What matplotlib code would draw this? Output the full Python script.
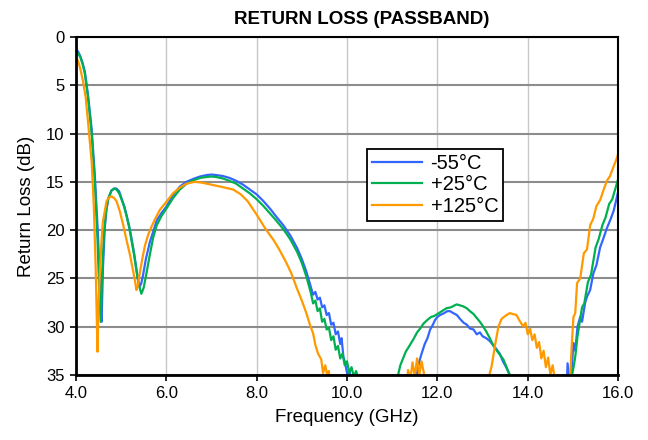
import numpy as np
import matplotlib.pyplot as plt

plt.rcParams['font.family'] = ['Liberation Sans', 'DejaVu Sans']

# -55C
freq_m55 = [4.00, 4.05, 4.10, 4.15, 4.20, 4.27, 4.35, 4.42, 4.49, 4.54, 4.57, 4.60, 4.64, 4.68, 4.72,
            4.79, 4.85, 4.90, 4.96, 5.01, 5.07, 5.12, 5.18, 5.23, 5.29, 5.34, 5.38, 5.41, 5.45, 5.49,
            5.55, 5.64, 5.71, 5.79, 5.90, 6.00, 6.15, 6.30, 6.45, 6.60, 6.75, 6.90, 7.00, 7.10, 7.25,
            7.40, 7.55, 7.70, 7.85, 8.00, 8.15, 8.30, 8.45, 8.59, 8.75, 8.90, 9.00, 9.10, 9.20, 9.25,
            9.30, 9.35, 9.40, 9.45, 9.50, 9.55, 9.60, 9.65, 9.70, 9.75, 9.80, 9.85, 9.88, 9.92, 9.96,
            10.00, 10.03, 10.06, 10.10,
            11.50, 11.54, 11.60, 11.65, 11.72, 11.78, 11.84, 11.90, 11.95, 12.00, 12.06, 12.15, 12.22,
            12.28, 12.35, 12.43, 12.50, 12.58, 12.65, 12.72, 12.80, 12.87, 12.94, 13.00, 13.08, 13.16,
            13.23, 13.30, 13.38, 13.45, 13.52, 13.60, 13.65,
            14.85, 14.88, 14.92, 14.97, 15.01, 15.05, 15.10, 15.16, 15.20, 15.27, 15.31, 15.38, 15.45,
            15.52, 15.60, 15.67, 15.75, 15.83, 15.90, 15.95, 16.00]
rl_m55 = [1.3, 1.5, 2.0, 2.7, 3.6, 6.0, 9.5, 14.3, 20.5, 26.5, 29.5, 24.0, 19.8, 17.8, 16.7,
          15.9, 15.7, 15.7, 16.0, 16.7, 17.5, 18.4, 19.6, 20.8, 22.4, 24.0, 25.2, 25.9, 25.5, 24.6,
          23.0, 21.2, 20.2, 19.0, 18.2, 17.6, 16.4, 15.5, 15.0, 14.7, 14.45, 14.3, 14.25, 14.3, 14.4,
          14.6, 14.9, 15.3, 15.8, 16.3, 17.0, 17.8, 18.7, 19.5, 20.6, 21.9, 23.0, 24.3, 25.9, 26.7,
          26.4, 27.2, 27.0, 28.0, 27.8, 28.8, 28.6, 29.8, 29.6, 30.8, 30.5, 31.8, 31.2, 33.1, 33.8,
          34.8, 35.2, 34.7, 38,
          38, 35.0, 33.6, 32.8, 31.8, 31.2, 30.3, 29.8, 29.3, 29.0, 28.8, 28.6, 28.4,
          28.4, 28.6, 28.8, 29.2, 29.6, 29.8, 30.2, 30.3, 30.8, 30.6, 31.0, 31.2, 31.5,
          31.9, 32.3, 32.8, 33.6, 34.2, 35.0, 38,
          38, 33.8, 35.5, 34.5, 31.7, 32.5, 30.0, 29.0, 29.5, 27.5, 26.9, 26.2, 24.5,
          23.6, 21.8, 20.9, 19.8, 18.9, 18.0, 17.0, 16.0]

# +25C
freq_p25 = [4.00, 4.05, 4.10, 4.15, 4.20, 4.27, 4.35, 4.42, 4.48, 4.52, 4.55, 4.58, 4.62, 4.67, 4.72,
            4.79, 4.85, 4.90, 4.96, 5.01, 5.07, 5.12, 5.18, 5.23, 5.29, 5.34, 5.39, 5.45, 5.50, 5.55,
            5.64, 5.71, 5.79, 5.90, 6.00, 6.15, 6.30, 6.45, 6.60, 6.75, 6.90, 7.00, 7.10, 7.25, 7.40,
            7.55, 7.70, 7.85, 8.00, 8.15, 8.30, 8.45, 8.59, 8.75, 8.90, 9.00, 9.10, 9.20, 9.25, 9.30,
            9.35, 9.40, 9.45, 9.50, 9.55, 9.60, 9.65, 9.70, 9.75, 9.80, 9.85, 9.90, 9.95, 10.00, 10.05,
            10.10, 10.15, 10.20, 10.25, 10.30,
            11.08, 11.13, 11.18, 11.24, 11.30, 11.38, 11.47, 11.55, 11.62, 11.69, 11.78, 11.86, 11.93,
            12.00, 12.10, 12.20, 12.30, 12.38, 12.43, 12.50, 12.57, 12.65, 12.72, 12.80, 12.87, 12.94,
            13.00, 13.08, 13.16, 13.23, 13.30, 13.38, 13.46, 13.53, 13.60, 13.65,
            14.95, 14.98, 15.02, 15.05, 15.10, 15.15, 15.20, 15.25, 15.33, 15.40, 15.50, 15.57, 15.65,
            15.72, 15.80, 15.87, 15.95, 16.00]
rl_p25 = [1.5, 1.7, 2.1, 2.8, 3.8, 6.3, 10.0, 15.0, 21.0, 26.5, 29.5, 25.0, 20.5, 18.0, 16.7,
          15.9, 15.7, 15.8, 16.2, 16.8, 17.6, 18.5, 19.7, 21.0, 22.6, 24.2, 25.6, 26.6, 26.0, 24.8,
          22.5, 20.8, 19.5, 18.5, 17.8, 16.7, 15.8, 15.2, 14.85, 14.6, 14.5, 14.45, 14.5, 14.65, 14.9,
          15.2, 15.7, 16.2, 16.8, 17.5, 18.3, 19.1, 19.9, 21.0, 22.3, 23.4, 24.8, 26.5, 27.6, 27.3,
          28.4, 28.1, 29.5, 29.2, 30.3, 30.1, 31.4, 31.0, 32.4, 32.0, 33.3, 32.8, 34.0, 33.6, 34.8,
          34.2, 35.2, 34.6, 35.3, 38,
          38, 35.0, 34.0, 33.3, 32.6, 32.0, 31.3, 30.6, 30.2, 29.7, 29.3, 29.0, 28.9,
          28.7, 28.4, 28.1, 28.0, 27.8, 27.7, 27.8, 27.9, 28.1, 28.4, 28.7, 29.1, 29.5,
          29.9, 30.5, 31.2, 31.9, 32.4, 32.9, 33.4, 34.2, 35.0, 38,
          38, 35.0, 34.0, 33.1, 31.0, 29.5, 28.0, 27.6, 25.4, 24.6, 21.8, 20.9, 19.5,
          18.7, 17.3, 16.8, 15.5, 14.7]

# +125C
freq_p125 = [4.00, 4.05, 4.10, 4.16, 4.22, 4.27, 4.35, 4.40, 4.44, 4.48, 4.50, 4.53, 4.57, 4.60, 4.68,
             4.74, 4.79, 4.85, 4.90, 4.97, 5.05, 5.12, 5.20, 5.27, 5.31, 5.34, 5.37, 5.41, 5.47, 5.53,
             5.60, 5.67, 5.76, 5.86, 6.00, 6.15, 6.30, 6.45, 6.63, 6.80, 7.00, 7.20, 7.48, 7.65, 7.80,
             8.00, 8.20, 8.37, 8.50, 8.66, 8.77, 8.88, 9.00, 9.10, 9.18, 9.25, 9.30, 9.36, 9.43, 9.47,
             9.52, 9.56, 9.60, 9.65,
             11.30, 11.35, 11.40, 11.45, 11.50, 11.55, 11.60, 11.65, 11.70, 11.75,
             13.10, 13.15, 13.20, 13.28, 13.35, 13.42, 13.50, 13.60, 13.67, 13.75, 13.82, 13.90, 13.95,
             14.00, 14.05, 14.10, 14.15, 14.20, 14.25, 14.30, 14.35, 14.40, 14.45, 14.50, 14.55, 14.60,
             14.65,
             14.90, 14.94, 14.97, 15.01, 15.05, 15.09, 15.16, 15.24, 15.31, 15.38, 15.45, 15.52, 15.60,
             15.68, 15.75, 15.82, 15.90, 15.95, 16.00]
rl_p125 = [2.0, 2.5, 3.3, 4.6, 6.3, 8.8, 12.9, 17.7, 24.0, 32.6, 28.0, 24.6, 21.0, 19.1, 17.0,
           16.6, 16.5, 16.7, 17.0, 18.0, 19.5, 21.0, 22.6, 24.3, 25.3, 26.2, 25.8, 24.6, 23.0, 21.6,
           20.5, 19.7, 18.8, 17.9, 17.1, 16.2, 15.6, 15.2, 15.0, 15.1, 15.3, 15.5, 15.8, 16.3, 17.0,
           18.4, 19.9, 21.0, 22.0, 23.4, 24.5, 25.9, 27.3, 28.6, 29.8, 30.7, 31.9, 32.8, 33.4, 34.8,
           34.0, 35.0, 34.6, 38,
           38, 34.5, 35.5, 33.7, 35.2, 33.3, 35.0, 33.6, 34.8, 38,
           38, 35.0, 34.1, 31.8, 30.0, 29.2, 28.9, 28.6, 28.7, 28.8, 29.4, 30.0, 29.6,
           30.8, 30.2, 31.4, 30.8, 32.2, 31.6, 33.3, 32.5, 34.2, 33.2, 35.0, 34.0, 35.5,
           38,
           38, 35.0, 32.1, 29.0, 28.6, 25.5, 25.0, 22.4, 22.0, 19.5, 18.8, 17.5, 16.9,
           15.8, 14.9, 14.4, 13.4, 12.8, 12.1]

labels = ['-55°C', '+25°C', '+125°C']
colors = ['#3366FF', '#00B050', '#FF9900']

fig = plt.figure(figsize=(6.48, 4.4), dpi=100)
ax = fig.add_axes([0.117, 0.148, 0.837, 0.768])

for f, rl, lab, c in zip([freq_m55, freq_p25, freq_p125], [rl_m55, rl_p25, rl_p125], labels, colors):
    ax.plot(f, rl, color=c, lw=1.6, label=lab)

ax.set_xlim(4, 16)
ax.set_ylim(35, 0)
ax.set_xticks(np.arange(4, 16.1, 2))
ax.set_xticklabels([f'{v:.1f}' for v in np.arange(4, 16.1, 2)])
ax.set_yticks(np.arange(0, 36, 5))

ax.xaxis.grid(True, color='#C8C8C8', lw=1.0)
ax.yaxis.grid(True, color='#8C8C8C', lw=1.5)
ax.set_axisbelow(True)

for s in ['left', 'bottom']:
    ax.spines[s].set_linewidth(2.0)
for s in ['top', 'right']:
    ax.spines[s].set_linewidth(1.5)
ax.tick_params(direction='out', length=4, width=1.2, labelsize=12, pad=4)

ax.set_xlabel('Frequency (GHz)', fontsize=13.5, labelpad=6)
ax.set_ylabel('Return Loss (dB)', fontsize=13.5, labelpad=8)
fig.text(0.558, 0.955, 'RETURN LOSS (PASSBAND)', fontsize=13.5, fontweight='bold', ha='center', va='center')

leg = ax.legend(loc='upper left', bbox_to_anchor=(0.537, 0.669), fontsize=14.5, frameon=True,
                fancybox=False, edgecolor='black', framealpha=1, handlelength=2.5,
                labelspacing=0.12, borderpad=0.25, handletextpad=0.4, borderaxespad=0)
leg.get_frame().set_linewidth(1.3)

fig.savefig('out.png', dpi=100)
